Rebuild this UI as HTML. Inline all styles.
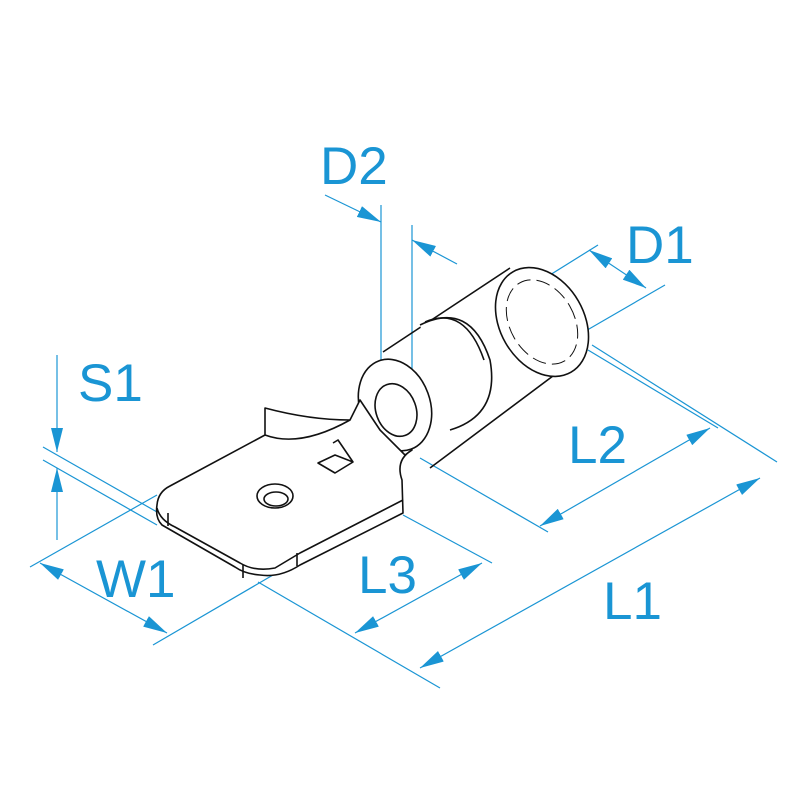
<!DOCTYPE html>
<html><head><style>
html,body{margin:0;padding:0;background:#fff;}
svg{display:block}
text{font-family:"Liberation Sans",sans-serif;font-size:53px;fill:#1a95d4}
</style></head><body>
<svg width="800" height="800" viewBox="0 0 800 800">
<defs>
<marker id="a" viewBox="0 0 24 12" refX="24" refY="6" markerWidth="24" markerHeight="12" markerUnits="userSpaceOnUse" orient="auto-start-reverse"><path d="M0,0L24,6L0,12z" fill="#1a95d4"/></marker>
</defs>
<g stroke="#1a95d4" stroke-width="1.2" fill="none">
<!-- D2 -->
<line x1="381" y1="205" x2="381" y2="405"/>
<line x1="412" y1="225" x2="412" y2="400"/>
<line x1="325" y1="195" x2="381" y2="222" marker-end="url(#a)"/>
<line x1="457" y1="264" x2="412" y2="240" marker-end="url(#a)"/>
<!-- D1 -->
<line x1="505" y1="303" x2="598" y2="245"/>
<line x1="570" y1="340" x2="665" y2="285"/>
<line x1="589" y1="250" x2="646" y2="288" marker-start="url(#a)" marker-end="url(#a)"/>
<!-- S1 -->
<line x1="57" y1="355" x2="57" y2="452" marker-end="url(#a)"/>
<line x1="57" y1="540" x2="57" y2="468" marker-end="url(#a)"/>
<line x1="43" y1="447" x2="157" y2="512"/>
<line x1="43" y1="460" x2="157" y2="525"/>
<!-- W1 -->
<line x1="30" y1="567" x2="157" y2="495"/>
<line x1="153" y1="645" x2="285" y2="568"/>
<line x1="40" y1="563" x2="167" y2="633" marker-start="url(#a)" marker-end="url(#a)"/>
<!-- L3 -->
<line x1="403" y1="515" x2="492" y2="563"/>
<line x1="355" y1="633" x2="482" y2="563" marker-start="url(#a)" marker-end="url(#a)"/>
<!-- L2 -->
<line x1="588" y1="350" x2="718" y2="428"/>
<line x1="420" y1="458" x2="548" y2="532"/>
<line x1="540" y1="526" x2="710" y2="428" marker-start="url(#a)" marker-end="url(#a)"/>
<!-- L1 -->
<line x1="592" y1="345" x2="777" y2="462"/>
<line x1="258" y1="582" x2="440" y2="688"/>
<line x1="420" y1="668" x2="760" y2="478" marker-start="url(#a)" marker-end="url(#a)"/>
</g>
<g stroke="#111" stroke-width="1.6" fill="none" stroke-linejoin="round">
<!-- barrel -->
<path d="M383 352 L510 268 M430 468 L585 352"/>
<ellipse cx="542" cy="322" rx="42" ry="58" transform="rotate(-30 542 322)" fill="#fff"/>
<ellipse cx="542" cy="322" rx="32" ry="45" transform="rotate(-30 542 322)" stroke-dasharray="14 6" stroke-width="1"/>
<path d="M420 325 Q470 300 490 360 Q500 415 450 430" fill="#fff"/>
<path d="M425 322 Q465 305 484 360"/>
<!-- ring -->
<ellipse cx="395" cy="405" rx="35" ry="47" transform="rotate(-20 395 405)" fill="#fff"/>
<ellipse cx="396" cy="410" rx="20" ry="27" transform="rotate(-20 396 410)"/>
<!-- blade -->
<path d="M265 435 L265 408 Q310 420 350 420 L360 400 L380 430 L405 455 L412 450 Q395 460 402 480 L403 513 L300 565 Q280 578 260 575 Q245 574 235 567 L162 525 Q155 518 157 505 Q158 492 170 486 L265 435 Z" fill="#fff"/>
<path d="M265 435 Q300 448 350 420"/>
<path d="M157 508 Q160 520 175 527 L240 563 Q255 572 275 568 L300 553 L403 500"/>
<line x1="168" y1="526" x2="168" y2="513"/>
<line x1="243" y1="565" x2="243" y2="578"/>
<line x1="297" y1="553" x2="297" y2="566"/>
<path d="M318 463 L335 455 L353 462 L335 473 Z M333 443 L338 440 L353 462"/>
<ellipse cx="275" cy="496" rx="18" ry="12"/>
<ellipse cx="276" cy="499" rx="12" ry="7"/>
</g>
<text x="320" y="184">D2</text>
<text x="626" y="263">D1</text>
<text x="78" y="401">S1</text>
<text x="568" y="463">L2</text>
<text x="96" y="597">W1</text>
<text x="358" y="593">L3</text>
<text x="603" y="619">L1</text>
</svg>
</body></html>
